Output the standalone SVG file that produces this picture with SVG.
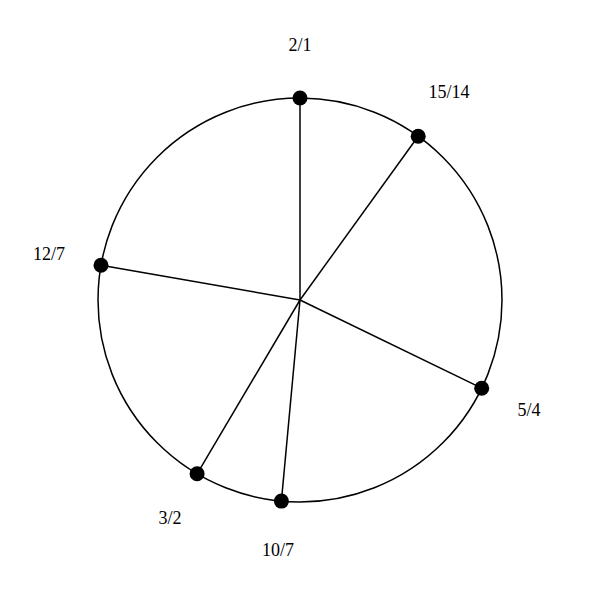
<svg xmlns="http://www.w3.org/2000/svg" width="600" height="600" viewBox="0 0 600 600">
<style>
.l{stroke:#000;stroke-width:1.5;fill:none}
.d{fill:#000}
.t{font-family:"Liberation Serif","Times New Roman",serif;font-size:18px;text-anchor:middle;fill:#000}
</style>
<rect width="600" height="600" fill="#fff"/>
<g id="connectors">
<circle class="l" cx="300" cy="300" r="202"/>
<line class="l" x1="300" y1="300" x2="300" y2="98"/>
<line class="l" x1="300" y1="300" x2="418.2" y2="136.2"/>
<line class="l" x1="300" y1="300" x2="481.7" y2="388.2"/>
<line class="l" x1="300" y1="300" x2="281.4" y2="501.1"/>
<line class="l" x1="300" y1="300" x2="197.1" y2="473.8"/>
<line class="l" x1="300" y1="300" x2="101" y2="265.2"/>
</g>
<g id="n21"><circle class="d" cx="300" cy="98" r="7.5"/><text class="t" x="300" y="51">2/1</text></g>
<g id="n1514"><circle class="d" cx="418.2" cy="136.2" r="7.5"/><text class="t" x="449" y="98">15/14</text></g>
<g id="n54"><circle class="d" cx="481.7" cy="388.2" r="7.5"/><text class="t" x="529" y="416">5/4</text></g>
<g id="n107"><circle class="d" cx="281.4" cy="501.1" r="7.5"/><text class="t" x="278" y="556">10/7</text></g>
<g id="n32"><circle class="d" cx="197.1" cy="473.8" r="7.5"/><text class="t" x="170" y="524">3/2</text></g>
<g id="n127"><circle class="d" cx="101" cy="265.2" r="7.5"/><text class="t" x="49" y="260">12/7</text></g>
</svg>
